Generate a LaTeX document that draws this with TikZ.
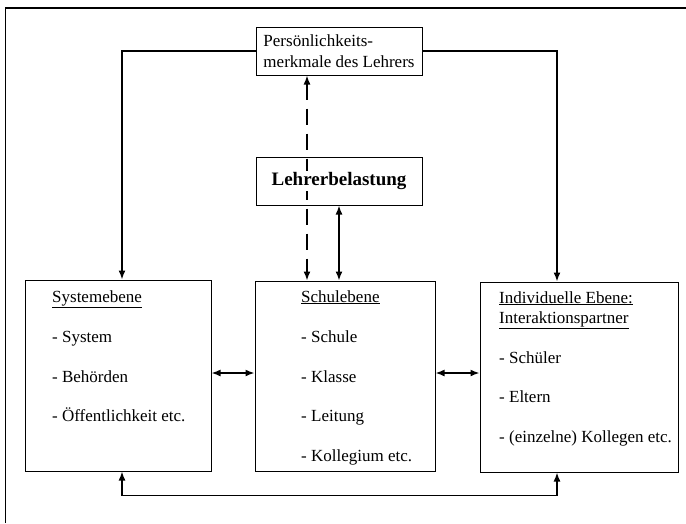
\documentclass[tikz,border=0pt]{standalone}
\usepackage{fontspec}
\setmainfont{Liberation Serif}
\usetikzlibrary{arrows.meta}
\begin{document}
\begin{tikzpicture}[x=1pt,y=-1pt,
  font=\fontsize{17}{21}\selectfont,
  box/.style={draw, line width=1pt, inner sep=0pt},
  conn/.style={line width=1.6pt},
  onetip/.style={-{Latex[length=9pt,width=7pt]}},
  twotip/.style={{Latex[length=9pt,width=7pt]}-{Latex[length=9pt,width=7pt]}},
  dashline/.style={dash pattern=on 16pt off 9pt},
  txt/.style={anchor=base west, inner sep=0pt}]
\useasboundingbox (0,0) rectangle (686,523);
% frame
\draw[line width=1.3pt] (5.5,523) -- (5.5,8) -- (686,8);
% boxes
\node[box, minimum width=166pt, minimum height=48pt, align=left] (pm) at (339,51) {Persönlichkeits-\\merkmale des Lehrers};
\node[box, minimum width=186pt, minimum height=191pt] (sys) at (118,375.5) {};
\node[box, minimum width=180pt, minimum height=190pt] (sch) at (345,376) {};
\node[box, minimum width=198pt, minimum height=190pt] (ind) at (579,377) {};
% dashed connector
\draw[conn, dashline, twotip] ([xshift=-32pt]pm.south) -- ([xshift=-32pt]pm.south |- sch.north);
\node[box, minimum width=166pt, minimum height=48pt, font=\fontsize{19}{23}\selectfont\bfseries] (lb) at (339,181) {\setlength{\fboxsep}{1pt}\colorbox{white}{Lehrerbelastung}};
% connectors
\coordinate (hy) at (0,373);
\draw[conn, twotip] (lb.south) -- (lb.south |- sch.north);
\draw[conn, onetip] (pm.west) -| ([xshift=4pt]sys.north);
\draw[conn, onetip] (pm.east) -| ([xshift=-22pt]ind.north);
\draw[conn, twotip] ([xshift=4pt]sys.south) -- ++(0,24) -| ([xshift=-22pt]ind.south);
\draw[conn, twotip] (sys.east |- hy) -- (sch.west |- hy);
\draw[conn, twotip] (sch.east |- hy) -- (ind.west |- hy);
% texts Systemebene
\node[txt] (s0) at (52,302) {\underline{Systemebene}};
\node[txt] (s1) at (52,342) {- System};
\node[txt] (s2) at (52,382) {- Behörden};
\node[txt] (s3) at (52,421) {- Öffentlichkeit etc.};
% texts Schulebene
\node[txt] (c0) at (301,302) {\underline{Schulebene}};
\node[txt] (c1) at (301,342) {- Schule};
\node[txt] (c2) at (301,382) {- Klasse};
\node[txt] (c3) at (301,421) {- Leitung};
\node[txt] (c4) at (301,461) {- Kollegium etc.};
% texts Individuelle Ebene
\node[txt] (i0) at (499,303) {\underline{Individuelle Ebene:}};
\node[txt] (i1) at (499,323) {\underline{Interaktionspartner}};
\node[txt] (i2) at (499,363) {- Schüler};
\node[txt] (i3) at (499,402) {- Eltern};
\node[txt] (i4) at (499,442) {- (einzelne) Kollegen etc.};
\end{tikzpicture}
\end{document}
